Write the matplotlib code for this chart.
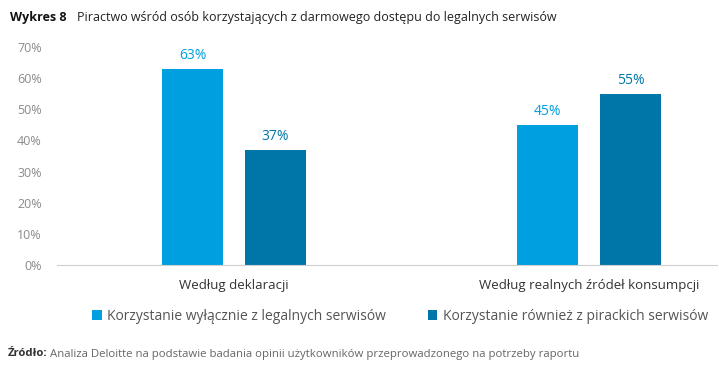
import matplotlib.pyplot as plt
import numpy as np

plt.rcParams['font.family'] = ['Open Sans', 'DejaVu Sans']

# ---- data ----
groups = ['Według deklaracji', 'Według realnych źródeł konsumpcji']
series_names = ['Korzystanie wyłącznie z legalnych serwisów',
                'Korzystanie również z pirackich serwisów']
legal_only = [63, 45]
also_pirate = [37, 55]
yticks = [0, 10, 20, 30, 40, 50, 60, 70]

LIGHT = '#009fdf'
DARK = '#0076a8'
GREY = '#8a8a8a'

fig = plt.figure(figsize=(7.19, 3.73), dpi=100)
ax = fig.add_axes([57/719, 1 - 265/373, 660/719, (265 - 47)/373])

x = np.arange(len(groups))
w = 0.172
off = 0.117
b1 = ax.bar(x - off, legal_only, w, color=LIGHT, label=series_names[0])
b2 = ax.bar(x + off, also_pirate, w, color=DARK, label=series_names[1])

for bars, col in ((b1, LIGHT), (b2, DARK)):
    for r in bars:
        ax.text(r.get_x() + r.get_width() / 2, r.get_height() + 1.8,
                f'{r.get_height():.0f}%', ha='center', va='bottom',
                color=col, fontsize=10)

ax.set_xlim(-0.4986, 1.36)
ax.set_ylim(0, 70)
ax.set_yticks(yticks)
ax.set_yticklabels([f'{t}%' for t in yticks], color=GREY, fontsize=9)
ax.set_xticks(x)
ax.set_xticklabels(groups, fontsize=9.5, color='#333333')
ax.tick_params(axis='both', length=0)
ax.tick_params(axis='y', pad=11)
ax.tick_params(axis='x', pad=10)
for s in ['top', 'right', 'left']:
    ax.spines[s].set_visible(False)
ax.spines['bottom'].set_color('#d0d0d0')
ax.spines['bottom'].set_linewidth(0.8)

leg = fig.legend(handles=[b1, b2], loc='center', bbox_to_anchor=(400/719, 1 - 316/373),
                 ncol=2, frameon=False, fontsize=10, handlelength=0.7, handleheight=0.7,
                 handletextpad=0.4, columnspacing=3.0)
for t in leg.get_texts():
    t.set_color('#555555')

fig.text(10/719, 1 - 18/373, 'Wykres 8', fontsize=9, fontweight='bold',
         color='#111111', va='center', ha='left')
fig.text(77/719, 1 - 18/373, 'Piractwo wśród osób korzystających z darmowego dostępu do legalnych serwisów',
         fontsize=9, color='#222222', va='center', ha='left')

fig.text(8/719, 1 - 354/373, 'Źródło:', fontsize=8.2, fontweight='bold',
         color='#333333', va='center', ha='left')
fig.text(50/719, 1 - 354/373,
         'Analiza Deloitte na podstawie badania opinii użytkowników przeprowadzonego na potrzeby raportu',
         fontsize=8.2, color='#666666', va='center', ha='left')

fig.savefig('out.png', dpi=100)
